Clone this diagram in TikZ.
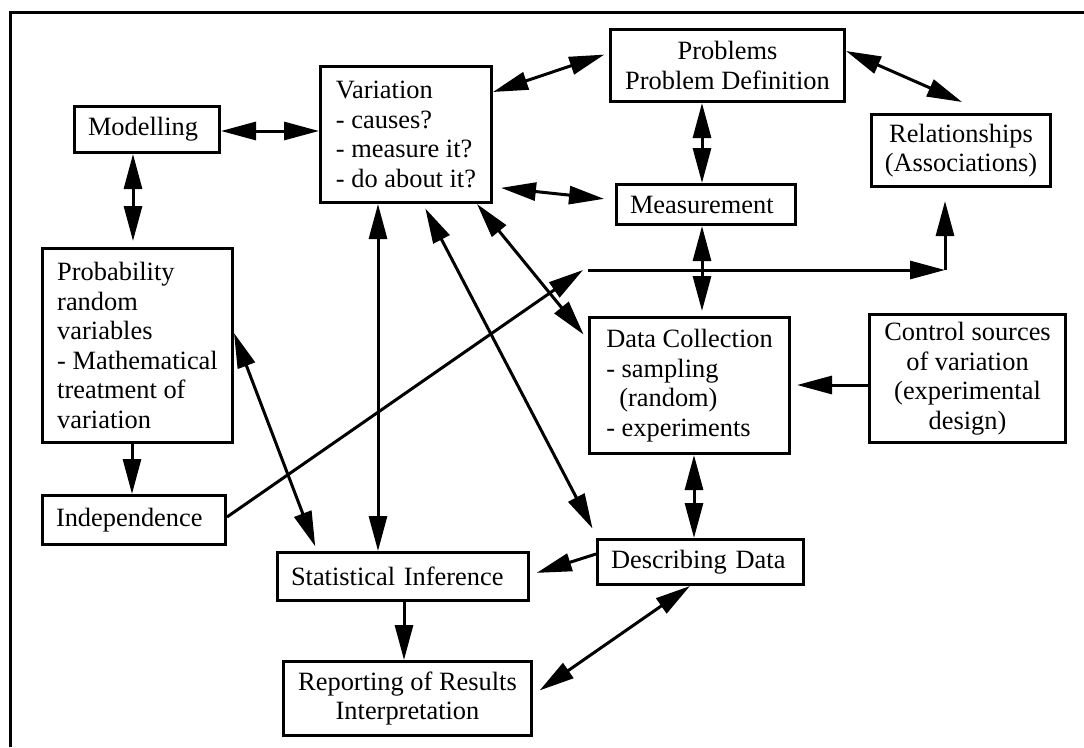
\documentclass[tikz,border=0pt]{standalone}
\usepackage{fontspec}
\setmainfont{Liberation Serif}
\usetikzlibrary{arrows.meta,calc}
\begin{document}
\begin{tikzpicture}[x=1pt,y=-1pt,
  bigtri/.tip={Triangle[length=35pt,width=18pt]},
  box/.style={draw, line width=3pt, inner xsep=13.5pt, inner ysep=0pt,
    font=\fontsize{26.4}{29.5}\selectfont},
  lbox/.style={box, align=left},
  cbox/.style={box, align=center},
  arr/.style={line width=3pt, -bigtri},
  dbl/.style={line width=3pt, bigtri-bigtri}]
\useasboundingbox (0,0) rectangle (1084,747);

% open frame: top and left edges only
\draw[line width=3pt] (1084,12) -- (10,12) -- (10,747);

% boxes
\node[lbox, text width=118pt, minimum height=46pt] (mod) at (147,129.5) {Modelling};
\node[lbox, minimum width=171pt, minimum height=136pt] (var) at (406,134.5)
  {Variation\\- causes?\\- measure it?\\- do about it?};
\node[cbox, minimum width=234pt, minimum height=72pt] (prob) at (727.5,65.5)
  {Problems\\Problem Definition};
\node[cbox, minimum width=177pt, minimum height=72pt] (rel) at (961,150.5)
  {Relationships\\(Associations)};
\node[lbox, text width=152pt, minimum height=40pt] (meas) at (706,204.5) {Measurement};
\node[lbox, minimum width=190pt, minimum height=194pt] (pr) at (137.5,345.5)
  {Probability\\random\\variables\\- Mathematical\\treatment of\\variation};
\node[lbox, text width=156pt, minimum height=49pt] (ind) at (134,520) {Independence};
\node[lbox, text width=224pt, minimum height=48pt] (inf) at (403,576.5) {Statistical Inference};
\node[cbox, minimum width=248pt, minimum height=74pt] (rep) at (407.5,698.5)
  {Reporting of Results\\Interpretation};
\node[lbox, minimum width=200pt, minimum height=136pt] (dc) at (689.5,385.5)
  {Data Collection\\- sampling\\\hspace*{13pt}(random)\\- experiments};
\node[lbox, text width=179pt, minimum height=45pt] (dd) at (700.5,562) {Describing Data};
\node[cbox, minimum width=196pt, minimum height=128pt] (ctl) at (967.5,378.5)
  {Control sources\\of variation\\(experimental\\design)};

% junction points of the Independence link
\coordinate (jmp) at (583,270);
\coordinate (jmp2) at (588,270);
\coordinate (bend) at (945,270);

% connectors
\draw[dbl] (mod.east |- 0,131) -- (var.west |- 0,131);
\draw[dbl, shorten >=6pt] (mod.south -| 133,0) -- (pr.north -| 133,0);
\draw[dbl, shorten >=5pt] (var.east |- 0,92) -- (prob.west |- 0,53);
\draw[dbl, shorten <=8pt, shorten >=11pt] (var.east |- 0,187) -- (meas.west |- 0,200);
\draw[dbl] (prob.south -| 702,0) -- (meas.north -| 702,0);
\draw[dbl] (prob.east |- 0,51) -- ($(rel.north -| 962,0)+(0,-11)$);
\draw[dbl, shorten >=5pt] (meas.south -| 702,0) -- (dc.north -| 702,0);
\draw[dbl, shorten >=7pt] (var.south -| 477,0) -- (dc.west |- 0,340);
\draw[dbl, shorten <=5pt] (var.south -| 423,0) -- ($(dd.north west)+(-3.5,-9.5)$);
\draw[dbl] (var.south -| 378,0) -- (inf.north -| 378,0);
\draw[dbl, shorten >=5pt] (pr.east |- 0,333) -- (inf.north -| 317,0);
\draw[arr] (pr.south -| 132,0) -- (ind.north -| 132,0);
\draw[arr] (ind.east |- 0,517) -- (jmp);
\draw[arr] (jmp2) -- (bend);
\draw[arr, shorten >=13pt] (bend) -- (rel.south -| bend);
\draw[arr, shorten >=6pt] (ctl.west |- 0,385) -- (dc.east |- 0,385);
\draw[dbl] (dc.south -| 694,0) -- (dd.north -| 694,0);
\draw[arr, shorten >=7pt] (dd.west |- 0,554) -- (inf.east |- 0,575);
\draw[arr] (inf.south -| 404,0) -- (rep.north -| 404,0);
\draw[dbl, shorten >=8pt] (dd.south -| 690,0) -- (rep.east |- 0,695);
\end{tikzpicture}
\end{document}
